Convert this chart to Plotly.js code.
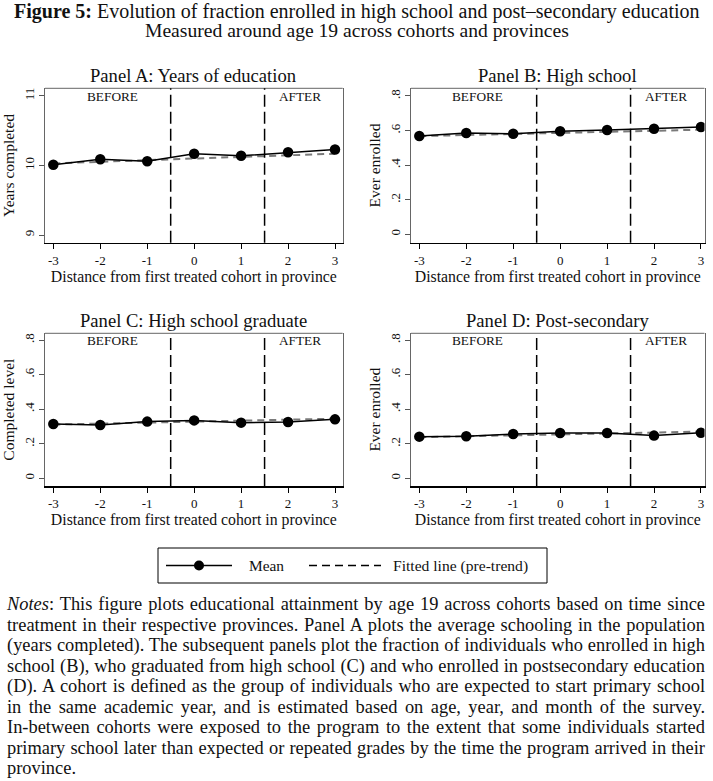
<!DOCTYPE html>
<html>
<head>
<meta charset="utf-8">
<script src="https://cdn.plot.ly/plotly-3.0.1.min.js"></script>
<style>
  html, body { margin:0; padding:0; background:#fff; }
  #wrap { position:relative; width:713px; height:781px; overflow:hidden; }
  #chart { position:absolute; left:0; top:0; width:713px; height:600px; }
  #notes { position:absolute; left:7px; top:594px; width:698px; font-family:"Liberation Serif", serif; font-size:16px; color:#111; }
  #notes div { line-height:20.5px; height:20.5px; text-align:justify; text-align-last:justify; white-space:nowrap; }
  #notes div.last { text-align-last:left; }
  #notes.measure div { text-align:left; text-align-last:left; }
</style>
</head>
<body>
<div id="wrap">
  <div id="chart"></div>
  <div id="notes" class="measure">
    <div><span><i>Notes</i>: This figure plots educational attainment by age 19 across cohorts based on time since</span></div>
    <div><span>treatment in their respective provinces. Panel A plots the average schooling in the population</span></div>
    <div><span>(years completed). The subsequent panels plot the fraction of individuals who enrolled in high</span></div>
    <div><span>school (B), who graduated from high school (C) and who enrolled in postsecondary education</span></div>
    <div><span>(D). A cohort is defined as the group of individuals who are expected to start primary school</span></div>
    <div><span>in the same academic year, and is estimated based on age, year, and month of the survey.</span></div>
    <div><span>In-between cohorts were exposed to the program to the extent that some individuals started</span></div>
    <div><span>primary school later than expected or repeated grades by the time the program arrived in their</span></div>
    <div class="last"><span>province.</span></div>
  </div>
</div>
<script>
// ---------------- data ----------------
const cohorts = [-3, -2, -1, 0, 1, 2, 3];
const fitX = [-3, 3];

const yearsMean = [10.01, 10.09, 10.06, 10.17, 10.14, 10.19, 10.23];
const yearsFit  = [10.03, 10.17];

const hsEnrolledMean = [0.569, 0.586, 0.582, 0.596, 0.603, 0.611, 0.621];
const hsEnrolledFit  = [0.568, 0.605];

const hsGradMean = [0.314, 0.308, 0.328, 0.335, 0.322, 0.326, 0.341];
const hsGradFit  = [0.311, 0.345];

const postSecMean = [0.241, 0.243, 0.256, 0.262, 0.262, 0.247, 0.264];
const postSecFit  = [0.238, 0.270];

const panelTitles = ["Panel A: Years of education", "Panel B: High school",
                     "Panel C: High school graduate", "Panel D: Post-secondary"];
const yTitles = ["Years completed", "Ever enrolled", "Completed level", "Ever enrolled"];
const xTitle = "Distance from first treated cohort in province";
const xTicks = [-3, -2, -1, 0, 1, 2, 3];
const xTickText = ["-3", "-2", "-1", "0", "1", "2", "3"];
const yTicksA = [9, 10, 11];
const yTickTextA = ["9", "10", "11"];
const yTicksFrac = [0, 0.2, 0.4, 0.6, 0.8];
const yTickTextFrac = ["0", ".2", ".4", ".6", ".8"];
const treatmentBounds = [-0.5, 1.5];
const periodLabels = ["BEFORE", "AFTER"];
const periodLabelX = [-1.75, 2.25];
const legendLabels = ["Mean", "Fitted line (pre-trend)"];

// ---------------- notes: fit font so the widest line fills the block ----------------
(function fitNotes() {
  const box = document.getElementById("notes");
  const spans = box.querySelectorAll("span");
  let maxW = 0;
  spans.forEach(s => { maxW = Math.max(maxW, s.getBoundingClientRect().width); });
  if (maxW > 0) box.style.fontSize = (16 * 694 / maxW) + "px";
  box.classList.remove("measure");
})();

// ---------------- layout helpers ----------------
const W = 713, H = 600;
const px = v => v / W;
const py = v => 1 - v / H;
const FONT = "Liberation Serif, Times New Roman, serif";

const means = [yearsMean, hsEnrolledMean, hsGradMean, postSecMean];
const fits = [yearsFit, hsEnrolledFit, hsGradFit, postSecFit];

const xDomains = [[px(45), px(342.7)], [px(411), px(704.5)], [px(45), px(342.7)], [px(411), px(704.5)]];
const yDomains = [[py(242.7), py(88.3)], [py(242.7), py(88.3)], [py(486), py(333.3)], [py(486), py(333.3)]];
const xRanges = [[-3.177, 3.164], [-3.177, 3.075], [-3.177, 3.164], [-3.177, 3.075]];
const yRanges = [[8.89, 11.11], [-0.0486, 0.8445], [-0.0445, 0.839], [-0.0445, 0.839]];

const traces = [];
const layout = {
  width: W, height: H,
  margin: {l: 0, r: 0, t: 0, b: 0},
  paper_bgcolor: "#fff", plot_bgcolor: "#fff",
  showlegend: false,
  font: {family: FONT, color: "#111", size: 12},
  shapes: [], annotations: []
};

for (let i = 0; i < 4; i++) {
  const s = i === 0 ? "" : String(i + 1);
  const xa = "x" + s, ya = "y" + s;
  traces.push({
    x: fitX, y: fits[i], xaxis: xa, yaxis: ya, mode: "lines",
    line: {color: "#7a7a7a", width: 2, dash: "7px,5px"}, hoverinfo: "skip"
  });
  traces.push({
    x: cohorts, y: means[i], xaxis: xa, yaxis: ya, mode: "lines+markers",
    line: {color: "#000", width: 1.5},
    marker: {color: "#000", size: 10.5, symbol: "circle"}
  });
  layout["xaxis" + s] = {
    domain: xDomains[i], range: xRanges[i], anchor: ya,
    tickmode: "array", tickvals: xTicks, ticktext: xTickText,
    ticks: "outside", ticklen: 5, tickcolor: "#000", tickwidth: 1,
    showline: true, linecolor: "#000", linewidth: 1.5, mirror: false,
    showgrid: false, zeroline: false, fixedrange: true,
    tickfont: {family: FONT, size: 13, color: "#111"},
    title: {text: xTitle, font: {family: FONT, size: 15.8, color: "#111"}, standoff: 2},
    automargin: false
  };
  layout["yaxis" + s] = {
    domain: yDomains[i], range: yRanges[i], anchor: xa,
    tickmode: "array",
    tickvals: i === 0 ? yTicksA : yTicksFrac,
    ticktext: i === 0 ? yTickTextA : yTickTextFrac,
    tickangle: -90,
    ticks: "outside", ticklen: 5, tickcolor: "#555", tickwidth: 1,
    showline: true, linecolor: "#666", linewidth: 1, mirror: true,
    showgrid: false, zeroline: false, fixedrange: true,
    tickfont: {family: FONT, size: 13, color: "#111"},
    title: {text: yTitles[i], font: {family: FONT, size: 15.5, color: "#111"}, standoff: 3},
    automargin: false
  };
  layout.shapes.push({type: "line", xref: xa + " domain", yref: ya + " domain",
    x0: 0, x1: 1, y0: 1, y1: 1, line: {color: "#666", width: 1}});
  treatmentBounds.forEach(b => layout.shapes.push({
    type: "line", xref: xa, yref: ya + " domain", x0: b, x1: b, y0: 0, y1: 1,
    line: {color: "#000", width: 1.5, dash: "12px,5px"}
  }));
  periodLabels.forEach((t, k) => layout.annotations.push({
    text: t, xref: xa, yref: ya + " domain", x: periodLabelX[k], y: 0.95,
    xanchor: "center", yanchor: "middle", showarrow: false,
    font: {family: FONT, size: 13.3, color: "#111"}
  }));
  layout.annotations.push({
    text: panelTitles[i], xref: "paper", yref: "paper",
    x: (xDomains[i][0] + xDomains[i][1]) / 2, y: i < 2 ? py(75) : py(320),
    xanchor: "center", yanchor: "middle", showarrow: false,
    font: {family: FONT, size: 18.6, color: "#111"}
  });
}

// main titles
layout.annotations.push({
  text: "<b>Figure 5:</b> Evolution of fraction enrolled in high school and post–secondary education",
  xref: "paper", yref: "paper", x: 0.5, y: py(11.5), xanchor: "center", yanchor: "middle",
  showarrow: false, font: {family: FONT, size: 20, color: "#111"}
});
layout.annotations.push({
  text: "Measured around age 19 across cohorts and provinces",
  xref: "paper", yref: "paper", x: 0.5, y: py(30.5), xanchor: "center", yanchor: "middle",
  showarrow: false, font: {family: FONT, size: 19.6, color: "#111"}
});

// manual legend
layout.shapes.push({type: "rect", xref: "paper", yref: "paper",
  x0: px(158), x1: px(547), y0: py(583), y1: py(548), line: {color: "#000", width: 1}});
layout.shapes.push({type: "line", xref: "paper", yref: "paper",
  x0: px(166), x1: px(232), y0: py(565.5), y1: py(565.5), line: {color: "#000", width: 1.6}});
layout.shapes.push({type: "circle", xref: "paper", yref: "paper",
  x0: px(194), x1: px(204), y0: py(570.5), y1: py(560.5),
  fillcolor: "#000", line: {color: "#000", width: 0}});
layout.shapes.push({type: "line", xref: "paper", yref: "paper",
  x0: px(309), x1: px(381), y0: py(565.5), y1: py(565.5),
  line: {color: "#000", width: 1.6, dash: "8px,5px"}});
layout.annotations.push({text: legendLabels[0], xref: "paper", yref: "paper",
  x: px(247), y: py(565.5), xanchor: "left", yanchor: "middle", showarrow: false,
  font: {family: FONT, size: 15.4, color: "#111"}});
layout.annotations.push({text: legendLabels[1], xref: "paper", yref: "paper",
  x: px(391), y: py(565.5), xanchor: "left", yanchor: "middle", showarrow: false,
  font: {family: FONT, size: 15.6, color: "#111"}});

Plotly.newPlot("chart", traces, layout, {staticPlot: true, displayModeBar: false});
</script>
</body>
</html>
